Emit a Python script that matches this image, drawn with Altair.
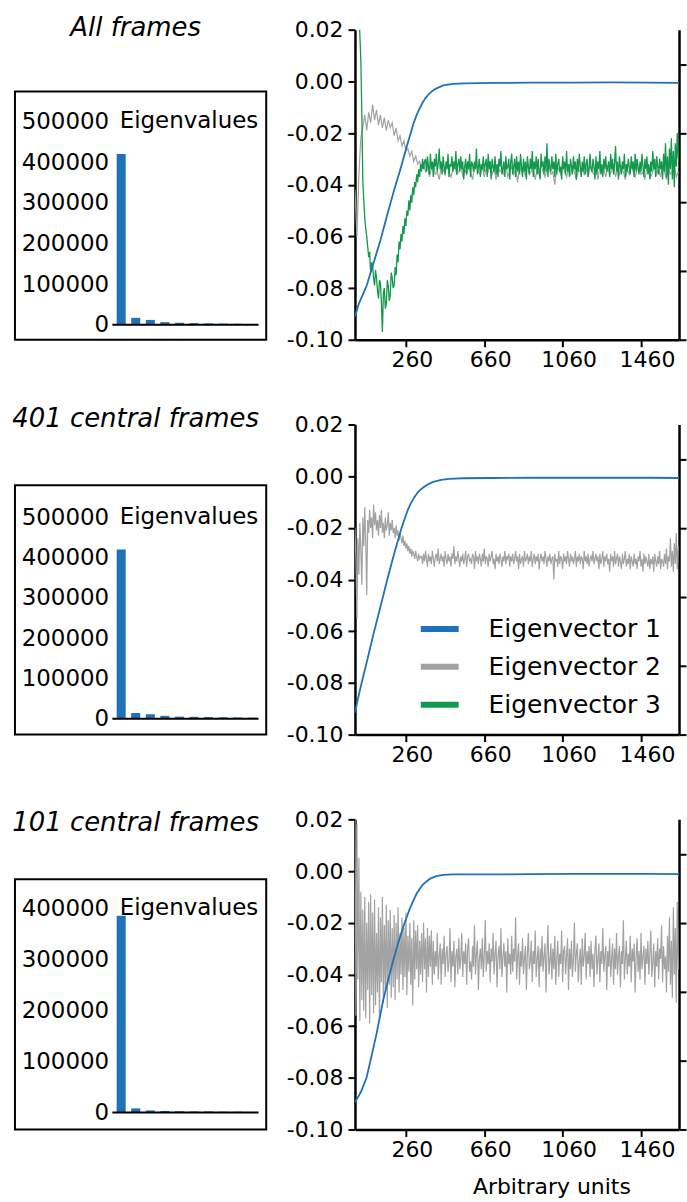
import altair as alt
import pandas as pd

FONT = "DejaVu Sans"
BLUE = "#1f72b8"
GRAY = "#a2a2a2"
GREEN = "#13994b"
SERIES = ["Eigenvector 1", "Eigenvector 2", "Eigenvector 3"]

panel_titles = ["All frames", "401 central frames", "101 central frames"]

# First ten eigenvalues of each decomposition
eigen_all = [420000, 17000, 12000, 6500, 5000, 4000, 3500, 3000, 2500, 2000]
eigen_401 = [420000, 14000, 11000, 7000, 5000, 4500, 4000, 3500, 3000, 2500]
eigen_101 = [385000, 8000, 4000, 3000, 2500, 2000, 2000, 1500, 1500, 1000]
eigen_ticks_500k = [0, 100000, 200000, 300000, 400000, 500000]
eigen_ticks_400k = [0, 100000, 200000, 300000, 400000]

x_ticks = [260, 660, 1060, 1460]
y_ticks = [-0.10, -0.08, -0.06, -0.04, -0.02, 0.00, 0.02]
right_ticks = [0, 0.02, 0.04, 0.06, 0.08]

# Eigenvector 1 (smooth): positions and values (values in thousandths)
ev1_all_x = [0, 20, 40, 60, 80, 100, 130, 160, 200, 230, 265, 300, 315, 330, 345,
             360, 375, 390, 405, 420, 450, 500, 560, 700, 900, 1100, 1300, 1500, 1654]
ev1_all_v = [-91, -86, -82.5, -79, -74, -69, -61.5, -53, -42, -34.5, -25, -16, -13, -10.5, -8.3,
             -6.5, -5.1, -4, -3.2, -2.6, -1.6, -1.0, -0.8, -0.6, -0.5, -0.5, -0.4, -0.5, -0.6]

ev1_401_x = [0, 17, 34, 60, 98, 130, 165, 200, 238, 255, 270, 285, 300, 315, 330,
             350, 365, 385, 400, 440, 480, 550, 700, 900, 1100, 1300, 1500, 1654]
ev1_401_v = [-91.5, -85.5, -80, -72, -60, -50.5, -40, -30, -20, -16.2, -13, -10.5, -8.5, -6.8, -5.5,
             -4.3, -3.5, -2.7, -2.2, -1.4, -1.0, -0.8, -0.7, -0.6, -0.6, -0.6, -0.6, -0.7]

ev1_101_x = [0, 30, 59, 85, 110, 144, 170, 195, 220, 246, 280, 314, 345, 382, 415,
             450, 500, 700, 900, 1100, 1300, 1500, 1654]
ev1_101_v = [-89.5, -85.5, -80, -71.5, -63, -50, -42, -34.6, -28, -21.7, -14.5, -8.8, -5.3, -3, -2,
             -1.5, -1.3, -1.3, -1.2, -1.1, -1.1, -1.1, -1.2]

# Eigenvector 2, all frames: one value every 10 units from 0 (thousandths)
ev2_all = [
    -42, -60, -36, -22,
    -18, -13, -19, -12, -16, -9, -15, -11, -17, -13, -18, -14, -19, -15, -18, -16,
    -21, -18, -23, -21, -25, -23, -27, -26, -29, -27, -31, -29, -32, -31, -34, -32,
    -35, -33, -37, -34, -32, -36, -35, -38, -33, -34,
    -36, -31, -35, -37, -34, -33, -36, -35, -32, -37,
    -34, -36, -33, -35, -38, -34, -32, -35, -36, -33,
    -37, -34, -35, -31, -36, -34, -38, -33, -35, -34,
    -36, -32, -37, -35, -33, -36, -34, -39, -33, -35,
    -34, -37, -32, -36, -35, -33, -38, -34, -36, -32,
    -35, -37, -34, -33, -36, -35, -40, -33, -34, -36,
    -32, -35, -37, -34, -36, -33, -35, -38, -34, -35,
    -33, -36, -34, -37, -32, -35, -36, -34, -38, -33,
    -35, -34, -37, -33, -36, -35, -32, -37, -34, -36,
    -33, -35, -38, -34, -36, -32, -35, -37, -34, -33,
    -36, -35, -38, -33, -34, -37, -35, -32, -36, -34,
    -37, -33, -35, -38, -34, -36, -35, -33, -37, -35,
]

# Eigenvector 3, all frames: one value every 5 units from 0 (thousandths)
ev3_all = [
    60, 50, 42, 35, 28, 18, 8, -12,
    -38, -46, -53, -57, -60, -64, -68, -66, -74, -70, -71, -76, -79, -73, -76, -81,
    -84, -77, -78, -86, -97, -82, -80, -88, -86, -77, -79, -85, -83, -74, -76, -80,
    -79, -72, -75, -67, -70, -62, -65, -59, -62, -56, -59, -53, -56, -50, -52, -46,
    -50, -44, -47, -41, -44, -39, -41, -36, -39, -34, -37, -32, -35, -30, -34, -31,
    -30, -35, -29, -33, -36, -28, -34, -31, -37, -30,
    -33, -28, -35, -32, -26, -34, -31, -36, -29, -33,
    -36, -31, -34, -28, -37, -32, -33, -29, -35, -31,
    -34, -27, -36, -32, -30, -35, -29, -34, -31, -38,
    -33, -30, -36, -31, -34, -28, -37, -31, -32, -35,
    -31, -34, -26, -36, -33, -30, -37, -32, -34, -29,
    -35, -32, -30, -37, -28, -34, -31, -38, -30, -33,
    -35, -29, -36, -32, -37, -30, -33, -27, -36, -34,
    -31, -37, -29, -34, -33, -30, -38, -31, -28, -36,
    -33, -30, -37, -29, -35, -31, -36, -28, -33, -37,
    -30, -35, -31, -38, -29, -33, -36, -30, -34, -27,
    -37, -31, -34, -29, -36, -30, -35, -38, -28, -33,
    -31, -36, -29, -35, -24, -37, -30, -33, -35, -29,
    -34, -31, -37, -28, -36, -32, -30, -35, -33, -38,
    -29, -34, -31, -36, -27, -35, -32, -37, -30, -33,
    -36, -29, -34, -31, -38, -30, -35, -28, -33, -37,
    -31, -35, -29, -36, -32, -30, -37, -33, -28, -34,
    -35, -30, -33, -38, -29, -36, -31, -34, -27, -36,
    -32, -37, -30, -34, -29, -35, -33, -31, -37, -28,
    -34, -30, -36, -32, -25, -35, -31, -38, -29, -33,
    -36, -31, -34, -28, -37, -32, -35, -30, -33, -36,
    -29, -34, -31, -37, -28, -35, -30, -33, -36, -31,
    -35, -28, -33, -37, -30, -34, -29, -36, -32, -38,
    -31, -35, -27, -34, -30, -37, -29, -33, -36, -30,
    -34, -31, -38, -28, -35, -24, -37, -29, -40, -26,
    -34, -22, -38, -27, -41, -24, -33, -20, -30,
]

# Eigenvector 2, 401 central frames: one value every 5 units (thousandths)
ev2_401 = [
    -20, -33, -55, -24, -38, -18, -29, -42, -16, -27, -12, -25,
    -46, -17, -22, -13, -20, -16, -24, -11, -19, -14, -21, -17, -23, -15,
    -20, -13, -22, -18, -24, -16, -21, -19, -14, -23, -18, -21, -17, -22,
    -20, -24, -19, -23, -21, -25, -22, -24, -26, -23, -27, -25, -28, -26,
    -29, -27, -30, -28, -31, -29, -30, -32, -29, -31, -33, -30, -32, -31,
    -31, -34, -30, -33, -29, -32, -35, -30, -33, -31,
    -34, -29, -32, -35, -31, -30, -33, -28, -34, -32,
    -30, -33, -31, -35, -29, -32, -34, -30, -33, -31,
    -35, -30, -32, -27, -34, -31, -33, -29, -32, -35,
    -31, -33, -30, -34, -32, -29, -35, -31, -30, -33,
    -32, -34, -30, -31, -36, -29, -33, -31, -34, -30,
    -32, -35, -30, -33, -28, -34, -31, -32, -35, -30,
    -33, -31, -29, -34, -32, -36, -30, -33, -31, -34,
    -30, -32, -35, -31, -33, -29, -34, -31, -32, -30,
    -35, -31, -33, -30, -34, -32, -29, -33, -31, -36,
    -30, -34, -32, -31, -35, -29, -33, -32, -30, -34,
    -31, -33, -29, -35, -32, -30, -34, -31, -33, -30,
    -36, -32, -30, -33, -31, -34, -29, -32, -35, -31,
    -33, -30, -34, -32, -31, -40, -30, -33, -32, -35,
    -29, -34, -31, -32, -36, -30, -33, -31, -34, -29,
    -32, -35, -30, -33, -31, -34, -32, -29, -35, -31,
    -33, -30, -34, -31, -32, -36, -29, -33, -31, -34,
    -30, -35, -32, -31, -33, -29, -34, -32, -30, -33,
    -31, -36, -30, -34, -32, -29, -35, -31, -33, -30,
    -34, -32, -37, -30, -33, -31, -35, -29, -34, -32,
    -30, -35, -31, -33, -36, -30, -34, -32, -29, -35,
    -32, -34, -30, -36, -31, -33, -35, -30, -34, -32,
    -36, -31, -33, -29, -35, -32, -37, -30, -34, -31,
    -33, -35, -30, -36, -32, -34, -31, -37, -30, -33,
    -35, -31, -34, -29, -36, -32, -33, -35, -30, -34,
    -28, -36, -31, -33, -24, -35, -29, -37, -26, -34,
    -22, -36, -27,
]

# Eigenvector 2, 101 central frames: one value every 5 units (thousandths)
ev2_101 = [
    24, -56, 18, -42, 5, -58, -8, -50, -15, -54,
    -10, -57, -20, -46, -12, -59, -9, -48, -16, -55,
    -11, -52, -24, -47, -14, -58, -18, -43, -10, -51,
    -21, -46, -13, -53, -19, -44, -15, -49, -22, -45,
    -17, -50, -20, -42, -14, -47, -24, -40, -18, -46,
    -22, -41, -16, -48, -25, -39, -20, -44, -26, -52,
    -19, -42, -23, -38, -21, -45, -27, -40, -24, -43,
    -20, -38, -26, -47, -22, -41, -25, -37, -23, -44,
    -27, -40, -31, -37, -24, -42, -33, -28, -44, -30,
    -36, -25, -41, -32, -29, -39, -35, -22, -43, -31,
    -37, -27, -45, -33, -30, -40, -26, -38, -34, -24,
    -41, -31, -36, -28, -44, -30, -26, -39, -35, -42,
    -29, -37, -21, -40, -32, -27, -46, -34, -30, -38,
    -26, -41, -33, -19, -39, -31, -36, -28, -43, -30,
    -35, -24, -40, -32, -27, -45, -33, -29, -38, -22,
    -41, -34, -28, -37, -31, -47, -26, -36, -32, -40,
    -25, -39, -30, -35, -18, -42, -33, -28, -44, -31,
    -37, -26, -40, -34, -29, -46, -32, -24, -38, -35,
    -27, -43, -31, -36, -23, -41, -34, -29, -45, -30,
    -37, -25, -39, -33, -28, -47, -32, -21, -40, -35,
    -28, -42, -30, -38, -25, -44, -34, -27, -41, -32,
    -36, -23, -43, -31, -29, -40, -33, -26, -46, -30,
    -38, -27, -41, -34, -20, -39, -32, -28, -43, -35,
    -30, -44, -26, -37, -33, -24, -42, -31, -36, -29,
    -41, -27, -38, -32, -45, -30, -25, -40, -34, -28,
    -43, -31, -36, -22, -39, -33, -29, -46, -31, -37,
    -26, -41, -34, -28, -44, -30, -38, -24, -40, -33,
    -29, -45, -31, -36, -19, -42, -34, -27, -40, -32,
    -37, -25, -43, -30, -35, -28, -47, -33, -26, -39,
    -31, -42, -24, -38, -33, -29, -44, -30, -36, -27,
    -40, -32, -23, -41, -35, -28, -45, -31, -37, -26,
    -42, -30, -34, -21, -43, -29, -38, -33, -47, -25,
    -39, -18, -44, -27, -49, -14, -40, -22, -51, -12,
    -38,
]

PANEL_W, PANEL_H = 254, 311
VEC_W = 325


def smooth_frame(xs, vals, name):
    return pd.DataFrame({"x": xs, "v": [v / 1000 for v in vals], "series": name})


def noisy_frame(vals, name, step):
    return pd.DataFrame({"x": [step * i for i in range(len(vals))],
                         "v": [v / 1000 for v in vals], "series": name})


def eigen_panel(values, ticks, domain, title, title_y, box_top):
    bars_df = pd.DataFrame({"rank": list(range(1, len(values) + 1)), "eig": values})
    one = pd.DataFrame({"t": [title]})
    y_scale = alt.Scale(domain=domain, nice=False)
    y_axis = alt.Axis(values=ticks, format="d", offset=-95, ticks=False, tickSize=0,
                      domain=False, grid=False, labelPadding=0, title=None,
                      labelFont=FONT, labelFontSize=23, labelColor="black")
    frame = alt.Chart(one).mark_rect(fillOpacity=0, stroke="black", strokeWidth=2).encode(
        x=alt.value(1), x2=alt.value(PANEL_W - 1), y=alt.value(box_top), y2=alt.value(PANEL_H))
    heading = alt.Chart(one).mark_text(font=FONT, fontSize=26, fontStyle="italic",
                                       baseline="middle", color="black").encode(
        text="t:N", x=alt.value(122), y=alt.value(title_y))
    bars = alt.Chart(bars_df).mark_bar(color=BLUE).encode(
        x=alt.X("rank:O", scale=alt.Scale(range=[103, 243.5], paddingInner=0.38, paddingOuter=0),
                axis=None),
        y=alt.Y("eig:Q", scale=y_scale, axis=y_axis))
    baseline = alt.Chart(one).mark_rule(color="black", strokeWidth=2).encode(
        x=alt.value(98.7), x2=alt.value(245.3), y=alt.YDatum(0, scale=y_scale, axis=y_axis))
    label = alt.Chart(pd.DataFrame({"t": ["Eigenvalues"]})).mark_text(
        font=FONT, fontSize=23, align="left", baseline="middle", color="black").encode(
        text="t:N", x=alt.value(106), y=alt.YDatum(ticks[-1], scale=y_scale, axis=y_axis))
    return alt.layer(frame, bars, baseline, label, heading).properties(width=PANEL_W, height=PANEL_H)


def vector_panel(frames, legend, x_title):
    color = alt.Color("series:N", scale=alt.Scale(domain=SERIES, range=[BLUE, GRAY, GREEN]),
                      legend=legend)
    axis_style = dict(domainColor="black", domainWidth=2.5, tickColor="black", tickWidth=2,
                      tickSize=7, labelFont=FONT, labelFontSize=22, labelColor="black", grid=False)
    if x_title:
        x_axis = alt.Axis(values=x_ticks, format="d", labelPadding=3, labelOffset=6, title=x_title,
                          titleFont=FONT, titleFontSize=22, titleFontWeight="normal",
                          titleColor="black", titleX=197, titleY=57, titleAlign="center",
                          titleBaseline="middle", **axis_style)
    else:
        x_axis = alt.Axis(values=x_ticks, format="d", labelPadding=3, labelOffset=6, title=None,
                          **axis_style)
    y_axis = alt.Axis(values=y_ticks, format=".2f", labelExpr="replace(datum.label, '\u2212', '-')",
                      labelPadding=5, title=None, **axis_style)
    x = alt.X("x:Q", scale=alt.Scale(domain=[0, 1654], nice=False, zero=False), axis=x_axis)
    y = alt.Y("v:Q", scale=alt.Scale(domain=[-0.10, 0.02], nice=False, zero=False), axis=y_axis)
    widths = {"Eigenvector 1": 1.8, "Eigenvector 2": 1.2, "Eigenvector 3": 1.3}
    lines = [alt.Chart(f).mark_line(strokeWidth=widths[f["series"].iloc[0]], clip=True)
             .encode(x=x, y=y, color=color) for f in frames]
    right = alt.Chart(pd.DataFrame({"r": [0.0]})).mark_point(opacity=0).encode(
        y=alt.Y("r:Q", scale=alt.Scale(domain=[0, 0.09], nice=False),
                axis=alt.Axis(orient="right", values=right_ticks, labels=False, title=None,
                              domainColor="black", domainWidth=2.5, tickColor="black",
                              tickWidth=2, tickSize=7, grid=False)))
    return (alt.layer(alt.layer(*lines), right)
            .resolve_scale(y="independent")
            .properties(width=VEC_W, height=PANEL_H))


legend_box = alt.Legend(orient="none", legendX=63, legendY=183, title=None, symbolType="stroke",
                        symbolSize=1444, symbolStrokeWidth=6, labelFont=FONT, labelFontSize=25,
                        labelColor="black", labelOffset=27, labelLimit=400, rowPadding=3,
                        padding=0)

eig1 = eigen_panel(eigen_all, eigen_ticks_500k, [-36765, 725490], panel_titles[0], -2, 62)
eig2 = eigen_panel(eigen_401, eigen_ticks_500k, [-39604, 730198], panel_titles[1], -6, 61)
eig3 = eigen_panel(eigen_101, eigen_ticks_400k, [-33171, 573659], panel_titles[2], 4, 60)

vec1 = vector_panel([noisy_frame(ev2_all, SERIES[1], 10), noisy_frame(ev3_all, SERIES[2], 5),
                     smooth_frame(ev1_all_x, ev1_all_v, SERIES[0])], None, None)
vec2 = vector_panel([noisy_frame(ev2_401, SERIES[1], 5),
                     smooth_frame(ev1_401_x, ev1_401_v, SERIES[0])], legend_box, None)
vec3 = vector_panel([noisy_frame(ev2_101, SERIES[1], 5),
                     smooth_frame(ev1_101_x, ev1_101_v, SERIES[0])], None, "Arbitrary units")

chart = (
    alt.concat(eig1, vec1, eig2, vec2, eig3, vec3, columns=2,
               spacing={"row": 85, "column": 88}, bounds="flush")
    .resolve_scale(color="independent")
    .resolve_legend(color="independent")
    .properties(padding={"left": 12, "top": 13, "right": 0, "bottom": 0})
    .configure(font=FONT)
    .configure_view(stroke=None)
)

chart.save("out.html", embed_options={"renderer": "svg", "actions": False})
